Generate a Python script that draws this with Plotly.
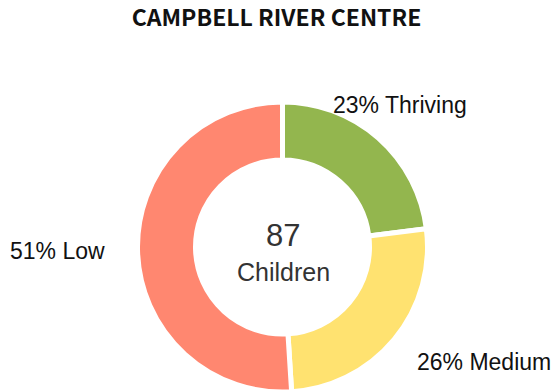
import plotly.graph_objects as go

# data
categories = ["Thriving", "Medium", "Low"]
percents = [23, 26, 51]
colors = ["#93B64E", "#FFE270", "#FF8770"]
total_children = 87
center_label = "Children"

W, H = 553, 392

fig = go.Figure(go.Pie(
    labels=categories,
    values=percents,
    sort=False,
    direction="clockwise",
    rotation=0,
    hole=0.6,
    marker=dict(colors=colors, line=dict(color="white", width=5)),
    textinfo="none",
    hoverinfo="label+percent",
    showlegend=False,
    domain=dict(x=[137.5 / W, 427.5 / W], y=[0, 290 / H]),
))

# outside labels
label_pos = {
    "Thriving": (400, 105),
    "Medium": (484, 362),
    "Low": (57, 251),
}
for cat, pct in zip(categories, percents):
    px_, py_ = label_pos[cat]
    fig.add_annotation(
        x=px_ / W, y=1 - py_ / H, xref="paper", yref="paper",
        text=f"{pct}% {cat}", showarrow=False,
        font=dict(family="Liberation Sans, Arial", size=23, color="#111111"),
        xanchor="center", yanchor="middle",
    )

fig.add_annotation(
    x=283 / W, y=1 - 235 / H, xref="paper", yref="paper",
    text=str(total_children), showarrow=False,
    font=dict(family="Liberation Sans, Arial", size=31, color="#333333"),
    xanchor="center", yanchor="middle",
)
fig.add_annotation(
    x=283 / W, y=1 - 272 / H, xref="paper", yref="paper",
    text=center_label, showarrow=False,
    font=dict(family="Liberation Sans, Arial", size=25, color="#333333"),
    xanchor="center", yanchor="middle",
)

fig.update_layout(
    width=W, height=H,
    margin=dict(l=0, r=0, t=0, b=0),
    paper_bgcolor="white",
    plot_bgcolor="white",
    title=dict(
        text="<b>CAMPBELL RIVER CENTRE</b>",
        x=0.5, xanchor="center", y=1 - 18 / H, yanchor="middle",
        font=dict(family="Noto Sans CJK SC, Noto Sans", size=23, color="#111111"),
    ),
)

fig.write_html(
    "out.html",
    config={"displayModeBar": False},
    post_script="document.body.style.margin='0';",
)
